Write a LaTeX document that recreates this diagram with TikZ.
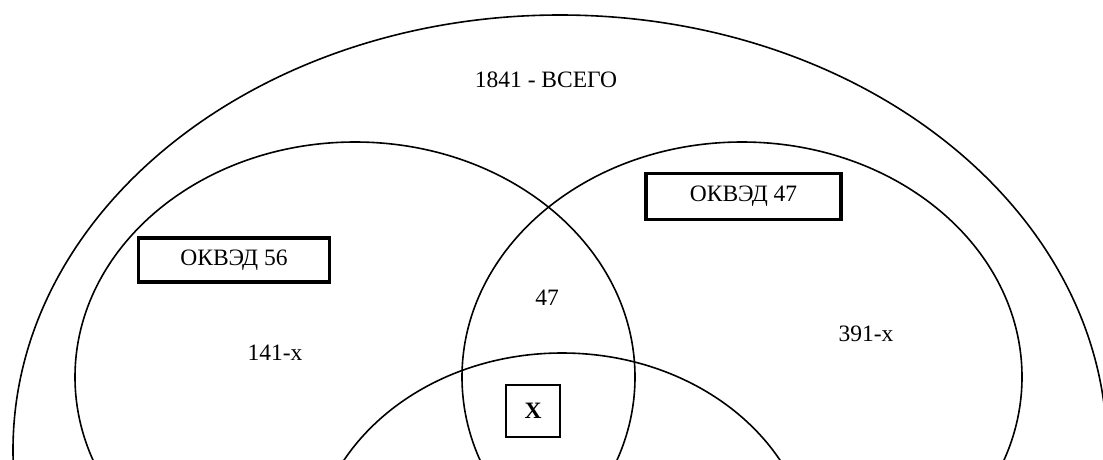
\documentclass[tikz,border=0pt]{standalone}
\usepackage{fontspec}
\setmainfont{Liberation Serif}
\begin{document}
\begin{tikzpicture}[x=1pt,y=-1pt,
  setline/.style={line width=1.6pt},
  lbl/.style={font=\fontsize{23.5}{28}\selectfont, inner sep=0pt},
  codebox/.style={draw, line width=3.2pt, minimum width=191pt, minimum height=44pt, inner sep=0pt, font=\fontsize{23.5}{28}\selectfont},
  xbox/.style={draw, line width=1.8pt, minimum width=54pt, minimum height=52pt, inner sep=0pt, font=\fontsize{23.5}{28}\selectfont\bfseries}]
  \useasboundingbox (0,0) rectangle (1103,459);
  \fill[white] (0,0) rectangle (1103,459);
  \clip (0,0) rectangle (1103,459);

  % sets: all firms, two activity codes, and the lower set
  \draw[setline] (560,450) ellipse [x radius=547pt, y radius=435pt];
  \draw[setline] (355,377) ellipse [x radius=280pt, y radius=235pt];
  \draw[setline] (742,377) ellipse [x radius=280pt, y radius=235pt];
  \draw[setline] (562,563) ellipse [x radius=250pt, y radius=210pt];

  % labels
  \node[lbl] (total) at (546,80) {1841 - ВСЕГО};
  \node[codebox] (c56) at (234,260) {ОКВЭД 56};
  \node[codebox, minimum width=195pt, minimum height=46pt] (c47) at (743.5,196.5) {ОКВЭД 47};
  \node[lbl] (both) at (547,298) {47};
  \node[lbl] (left) at (275,353) {141-x};
  \node[lbl] (right) at (866,334) {391-x};
  \node[xbox] (xv) at (533,411) {X};
\end{tikzpicture}
\end{document}
